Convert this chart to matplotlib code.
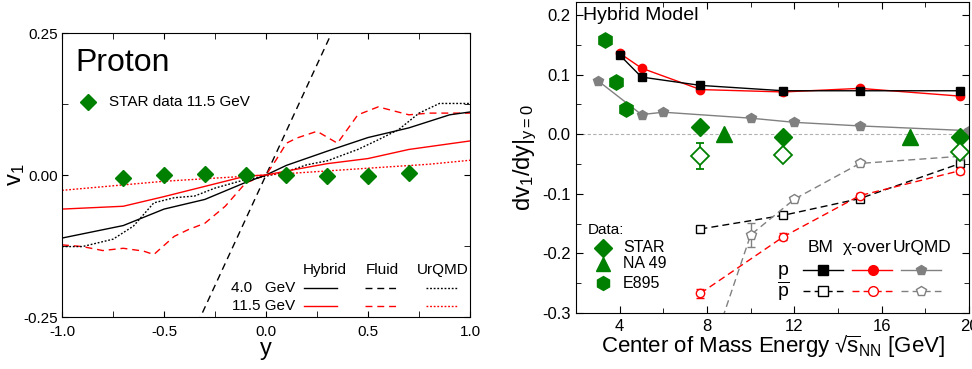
import matplotlib
matplotlib.use('Agg')
import matplotlib.pyplot as plt
import numpy as np

plt.rcParams['font.family'] = ['Liberation Sans', 'DejaVu Sans']
plt.rcParams['mathtext.fontset'] = 'custom'
plt.rcParams['mathtext.rm'] = 'Liberation Sans'
plt.rcParams['mathtext.it'] = 'Liberation Sans:italic'

GREEN = '#008000'
GRAY = '#808080'

# ---------------- left panel: v1(y) for protons ----------------
star_y = [-0.7, -0.5, -0.3, -0.1, 0.1, 0.3, 0.5, 0.7]
star_v1 = [-0.005, 0.0, 0.002, 0.0, 0.0, -0.002, -0.002, 0.003]

hyb4_y = [-1.0, -0.7, -0.5, -0.3, -0.1, 0.0, 0.1, 0.3, 0.5, 0.7, 0.9, 1.0]
hyb4_v1 = [-0.111, -0.089, -0.060, -0.043, -0.013, 0.0, 0.017, 0.042, 0.066, 0.083, 0.106, 0.111]

hyb11_y = [-1.0, -0.7, -0.5, -0.3, -0.1, 0.0, 0.1, 0.3, 0.5, 0.7, 1.0]
hyb11_v1 = [-0.060, -0.055, -0.038, -0.020, -0.002, 0.0, 0.007, 0.020, 0.029, 0.045, 0.060]

urq11_y = [-1.0, -0.5, 0.0, 0.5, 0.8, 1.0]
urq11_v1 = [-0.027, -0.011, 0.0, 0.012, 0.019, 0.026]

urq4_y = [-1.0, -0.9, -0.75, -0.65, -0.55, -0.45, -0.35, -0.25, -0.1, 0.0, 0.1, 0.2,
          0.3, 0.45, 0.55, 0.65, 0.75, 0.85, 1.0]
urq4_v1 = [-0.126, -0.126, -0.113, -0.090, -0.049, -0.040, -0.037, -0.023, -0.008, -0.002,
           0.006, 0.018, 0.025, 0.045, 0.062, 0.080, 0.109, 0.126, 0.126]

fl4_y = [-0.36, 0.0, 0.36]
fl4_v1 = [-0.28, 0.0, 0.28]

fl11_y = [-1.0, -0.9, -0.8, -0.7, -0.6, -0.55, -0.45, -0.38, -0.3, -0.2, -0.1, 0.0,
          0.05, 0.1, 0.15, 0.25, 0.35, 0.45, 0.55, 0.7, 0.8, 1.0]
fl11_v1 = [-0.123, -0.126, -0.133, -0.129, -0.134, -0.140, -0.108, -0.096, -0.085, -0.055,
           -0.014, 0.0, 0.027, 0.056, 0.065, 0.077, 0.056, 0.106, 0.120, 0.106, 0.109, 0.109]

# ---------------- right panel: dv1/dy vs sqrt(s) ----------------
bm_e = [4.0, 5.0, 7.7, 11.5, 15.0, 19.6]
bm_p = [0.133, 0.096, 0.082, 0.073, 0.073, 0.073]
bm_e_bar = [7.7, 11.5, 15.0, 19.6]
bm_pbar = [-0.159, -0.136, -0.108, -0.049]

chi_e = [4.0, 5.0, 7.7, 11.5, 15.0, 19.6]
chi_p = [0.136, 0.111, 0.075, 0.071, 0.077, 0.064]
chi_e_bar = [7.7, 11.5, 15.0, 19.6]
chi_pbar = [-0.267, -0.172, -0.103, -0.061]
chi_pbar_err = [0.008, 0.006, 0.005, 0.005]

urq_e = [3.0, 5.0, 6.0, 10.0, 12.0, 15.0, 20.0]
urq_p = [0.090, 0.033, 0.037, 0.027, 0.020, 0.014, 0.006]
urq_e_bar = [7.7, 10.0, 12.0, 15.0, 19.6]
urq_pbar = [-0.418, -0.169, -0.109, -0.049, -0.037]
urq_pbar_err = [0.0, 0.020, 0.004, 0.005, 0.004]

star_e = [7.7, 11.5, 19.6]
star_p = [0.013, -0.005, -0.005]
star_pbar = [-0.036, -0.034, -0.030]
star_pbar_err = [0.022, 0.004, 0.004]

na49_e = [8.8, 17.3]
na49_p = [0.001, -0.004]
na49_err = [0.012, 0.012]

e895_e = [3.32, 3.84, 4.29]
e895_p = [0.159, 0.087, 0.042]

fig = plt.figure(figsize=(9.72, 3.69), dpi=100)

# ================= left =================
ax1 = fig.add_axes([0.0638, 0.1409, 0.4198, 0.7696])
lw = 1.0
dash = (0, (5, 3.5))
dot = (0, (1.3, 1.3))
ax1.plot(fl4_y, fl4_v1, color='k', ls=dash, lw=lw)
ax1.plot(fl11_y, fl11_v1, color='r', ls=dash, lw=lw)
ax1.plot(urq4_y, urq4_v1, color='k', ls=dot, lw=lw)
ax1.plot(urq11_y, urq11_v1, color='r', ls=dot, lw=lw)
ax1.plot(hyb4_y, hyb4_v1, color='k', ls='-', lw=lw)
ax1.plot(hyb11_y, hyb11_v1, color='r', ls='-', lw=lw)
ax1.plot(star_y, star_v1, ls='none', marker='D', ms=8, color=GREEN, zorder=5)

ax1.set_xlim(-1, 1)
ax1.set_ylim(-0.25, 0.25)
ax1.set_xticks([-1.0, -0.5, 0.0, 0.5, 1.0])
ax1.set_xticks([-0.75, -0.25, 0.25, 0.75], minor=True)
ax1.set_yticks([-0.25, 0.0, 0.25])
ax1.set_yticks([-0.125, 0.125], minor=True)
ax1.set_xticklabels(['-1.0', '-0.5', '0.0', '0.5', '1.0'])
ax1.set_yticklabels(['-0.25', '0.00', '0.25'])
ax1.tick_params(which='both', direction='in', top=True, right=True, labelsize=11)
ax1.tick_params(axis='x', pad=6)
ax1.tick_params(axis='y', pad=3)
ax1.tick_params(which='major', length=4)
ax1.tick_params(which='minor', length=4)
ax1.set_xlabel('y', fontsize=17, labelpad=-1)
ax1.set_ylabel(r'v$_1$', fontsize=17, labelpad=-3)

ax1.text(0.032, 0.894, 'Proton', transform=ax1.transAxes, fontsize=23, va='center')
ax1.plot([0.064], [0.757], transform=ax1.transAxes, marker='D', ms=8, color=GREEN, ls='none')
ax1.text(0.115, 0.757, 'STAR data 11.5 GeV', transform=ax1.transAxes, fontsize=11, va='center')

for xc, lab in zip([0.644, 0.784, 0.933], ['Hybrid', 'Fluid', 'UrQMD']):
    ax1.text(xc, 0.165, lab, transform=ax1.transAxes, fontsize=11, ha='center', va='center')
ax1.text(0.571, 0.102, '4.0   GeV', transform=ax1.transAxes, fontsize=11, ha='right', va='center')
ax1.text(0.571, 0.039, '11.5 GeV', transform=ax1.transAxes, fontsize=11, ha='right', va='center')
for (x0, x1), ls in zip([(0.593, 0.674), (0.743, 0.824), (0.892, 0.971)], ['-', dash, dot]):
    ax1.plot([x0, x1], [0.102, 0.102], transform=ax1.transAxes, color='k', ls=ls, lw=lw)
    ax1.plot([x0, x1], [0.039, 0.039], transform=ax1.transAxes, color='r', ls=ls, lw=lw)

# ================= right =================
ax2 = fig.add_axes([0.5926, 0.1518, 0.4043, 0.8428])
ax2.axhline(0, color='#b0b0b0', ls=(0, (3, 2)), lw=0.8, zorder=0)

ms_s = 6
ax2.plot(urq_e, urq_p, color=GRAY, marker='p', ms=ms_s + 1, lw=lw)
ax2.plot(chi_e, chi_p, color='r', marker='o', ms=ms_s, lw=lw)
ax2.plot(bm_e, bm_p, color='k', marker='s', ms=ms_s, lw=lw)

ax2.errorbar(urq_e_bar, urq_pbar, yerr=urq_pbar_err, color=GRAY, marker='p', ms=ms_s + 1,
             mfc='white', ls=(0, (5, 3)), lw=lw, capsize=3, elinewidth=1)
ax2.errorbar(chi_e_bar, chi_pbar, yerr=chi_pbar_err, color='r', marker='o', ms=ms_s,
             mfc='white', ls=(0, (5, 3)), lw=lw, capsize=3, elinewidth=1)
ax2.plot(bm_e_bar, bm_pbar, color='k', marker='s', ms=ms_s - 0.5, mfc='white',
         ls=(0, (5, 3)), lw=lw)

ax2.plot(e895_e, e895_p, ls='none', marker='h', ms=11, color=GREEN)
ax2.errorbar(na49_e, na49_p, yerr=na49_err, ls='none', marker='^', ms=11, color=GREEN,
             elinewidth=1, capsize=0)
ax2.plot(star_e, star_p, ls='none', marker='D', ms=9, color=GREEN)
ax2.errorbar(star_e, star_pbar, yerr=star_pbar_err, ls='none', marker='D', ms=9, color=GREEN,
             mfc='white', mew=1.3, elinewidth=1.2, capsize=3)

ax2.set_xlim(2, 20)
ax2.set_ylim(-0.3, 0.222)
ax2.set_xticks([4, 8, 12, 16, 20])
ax2.set_xticks([2, 6, 10, 14, 18], minor=True)
ax2.set_yticks([-0.3, -0.2, -0.1, 0.0, 0.1, 0.2])
ax2.set_yticks([-0.25, -0.15, -0.05, 0.05, 0.15], minor=True)
ax2.set_yticklabels(['-0.3', '-0.2', '-0.1', '0.0', '0.1', '0.2'])
ax2.tick_params(which='both', direction='in', top=True, right=True, labelsize=12, pad=4)
ax2.tick_params(which='major', length=5)
ax2.tick_params(which='minor', length=3.5)
ax2.set_xlabel(r'Center of Mass Energy √$\overline{\mathrm{s}}_{\mathrm{NN}}$ [GeV]',
               fontsize=16, labelpad=0)
ax2.set_ylabel(r'dv$_1$/dy|$_{\mathrm{y=0}}$', fontsize=17, labelpad=2)

ax2.text(0.018, 0.955, 'Hybrid Model', transform=ax2.transAxes, fontsize=14, va='center')

ax2.text(0.031, 0.267, 'Data:', transform=ax2.transAxes, fontsize=11, va='center')
for yy, mk, lab in zip([0.209, 0.158, 0.096], ['D', '^', 'h'], ['STAR', 'NA 49', 'E895']):
    ax2.plot([0.069], [yy], transform=ax2.transAxes, marker=mk, ms=10 if mk != 'D' else 9,
             color=GREEN, ls='none')
    ax2.text(0.12, yy, lab, transform=ax2.transAxes, fontsize=11.5, va='center')

for xl, lab in zip([0.590, 0.680, 0.806], ['BM', 'χ-over', 'UrQMD']):
    ax2.text(xl, 0.209, lab, transform=ax2.transAxes, fontsize=12.5, ha='left', va='center')
ax2.text(0.527, 0.138, 'p', transform=ax2.transAxes, fontsize=14, ha='center', va='center')
ax2.text(0.527, 0.071, r'$\overline{\mathrm{p}}$', transform=ax2.transAxes, fontsize=14,
         ha='center', va='center')
for (x0, x1), xm, c, mk in zip([(0.578, 0.679), (0.702, 0.804), (0.827, 0.929)],
                               [0.628, 0.756, 0.878], ['k', 'r', GRAY], ['s', 'o', 'p']):
    ax2.plot([x0, x1], [0.138, 0.138], transform=ax2.transAxes, color=c, lw=lw)
    ax2.plot([xm], [0.138], transform=ax2.transAxes, color=c, marker=mk, ms=ms_s + 1)
    ax2.plot([x0, x1], [0.071, 0.071], transform=ax2.transAxes, color=c, lw=lw, ls=(0, (5, 3)))
    ax2.plot([xm], [0.071], transform=ax2.transAxes, color=c, marker=mk, ms=ms_s + 1, mfc='white')

fig.savefig('out.png', dpi=100)
